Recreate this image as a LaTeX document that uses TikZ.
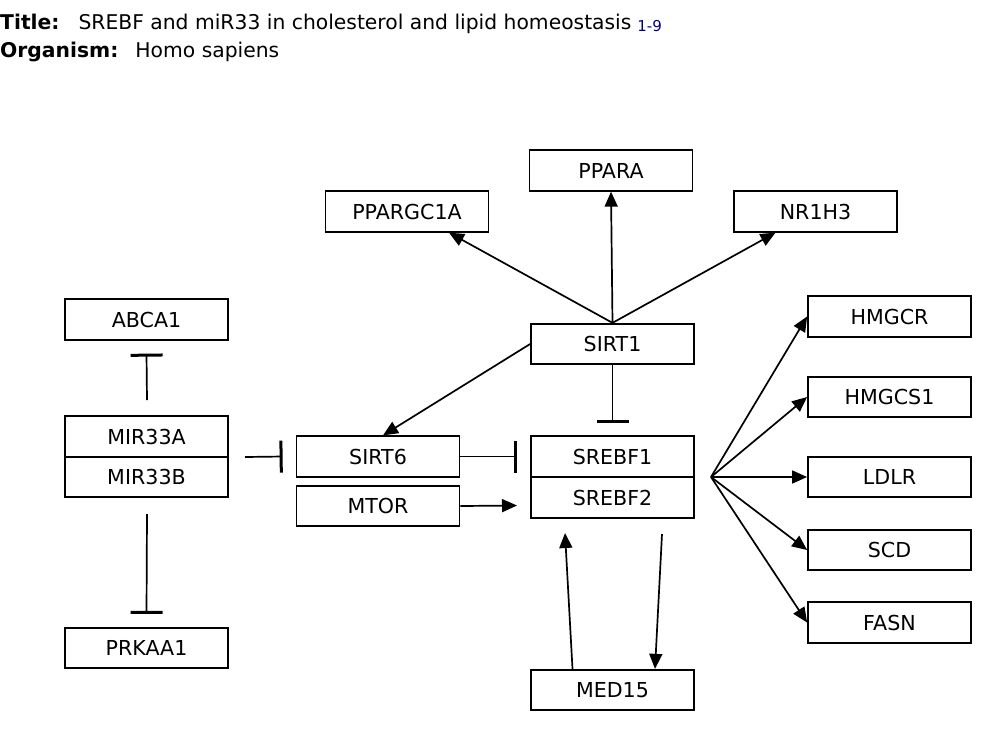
\documentclass[tikz,border=0pt]{standalone}
\usepackage{fontspec}
\setmainfont{DejaVu Sans}
\usetikzlibrary{arrows.meta}
\definecolor{refnavy}{HTML}{000080}
\tikzset{
  gene/.style={draw, line width=1.8pt, rectangle, minimum width=163pt, minimum height=40.5pt, inner sep=0pt, font=\fontsize{20.6}{23}\selectfont},
  conn/.style={line width=1.7pt},
  act/.style={conn, -{Triangle[length=15pt,width=13pt]}},
  inh/.style={conn, -{Bar[width=32pt,line width=3pt]}},
  hdr/.style={anchor=base west, inner sep=0pt, font=\fontsize{20.3}{23}\selectfont},
}
\begin{document}
\begin{tikzpicture}[x=1pt,y=-1pt]
\useasboundingbox (0,0) rectangle (1000,740);
% title
\node[hdr] (title) at (0,29)
  {\textbf{Title:}\hspace{19pt}SREBF and miR33 in cholesterol and lipid homeostasis\hspace{6pt}\raisebox{-2.5pt}{\textcolor{refnavy}{\fontsize{15}{17}\selectfont 1-9}}};
\node[hdr] (org) at (0,57.5)
  {\textbf{Organism:}\hspace{17pt}Homo sapiens};
% nodes
\node[gene] (ppara) at (611,170.5) {PPARA};
\node[gene] (ppargc1a) at (407,211.5) {PPARGC1A};
\node[gene] (nr1h3) at (815.5,211.5) {NR1H3};
\node[gene] (abca1) at (146.5,319.5) {ABCA1};
\node[gene] (sirt1) at (612.5,344) {SIRT1};
\node[gene] (hmgcr) at (889.5,316.5) {HMGCR};
\node[gene] (hmgcs1) at (889.5,397) {HMGCS1};
\node[gene] (mir33a) at (146.5,436.5) {MIR33A};
\node[gene] (mir33b) at (146.5,477) {MIR33B};
\node[gene] (sirt6) at (378,456.5) {SIRT6};
\node[gene] (srebf1) at (612.5,456.5) {SREBF1};
\node[gene] (srebf2) at (612.5,497.5) {SREBF2};
\node[gene] (mtor) at (378,506) {MTOR};
\node[gene] (ldlr) at (889.5,477) {LDLR};
\node[gene] (scd) at (889.5,550) {SCD};
\node[gene] (fasn) at (889.5,622.5) {FASN};
\node[gene] (prkaa1) at (146.5,648) {PRKAA1};
\node[gene] (med15) at (612.5,690) {MED15};
% free-end coordinates
\coordinate (hub) at (711,477);
\coordinate (mirtop) at (147,400);
\coordinate (mirright) at (245,457);
\coordinate (mirbot) at (147,514);
\coordinate (srebfin) at (517,505.5);
\coordinate (srebfbotl) at (565,533);
\coordinate (srebfbotr) at (662,534);
% edges
\draw[act] (sirt1.north) -- ([xshift=42pt]ppargc1a.south);
\draw[act] (sirt1.north) -- (ppara.south);
\draw[act] (sirt1.north) -- ([xshift=-40pt]nr1h3.south);
\draw[act] (sirt1.west) -- ([xshift=5pt]sirt6.north);
\draw[inh] (sirt1.south) -- ([yshift=12pt]srebf1.north);
\draw[inh] (mirtop) -- ([yshift=-13pt]abca1.south);
\draw[inh] (mirright) -- ([xshift=-13pt]sirt6.west);
\draw[inh] (mirbot) -- ([yshift=13pt]prkaa1.north);
\draw[inh] (sirt6.east) -- ([xshift=-13pt]srebf1.west);
\draw[act] (mtor.east) -- (srebfin);
\draw[act] (hub) -- (hmgcr.west);
\draw[act] (hub) -- (hmgcs1.west);
\draw[act] (hub) -- (ldlr.west);
\draw[act] (hub) -- (scd.west);
\draw[act] (hub) -- (fasn.west);
\draw[act] ([xshift=-40pt]med15.north) -- (srebfbotl);
\draw[act] (srebfbotr) -- ([xshift=42.5pt]med15.north);
\end{tikzpicture}
\end{document}
